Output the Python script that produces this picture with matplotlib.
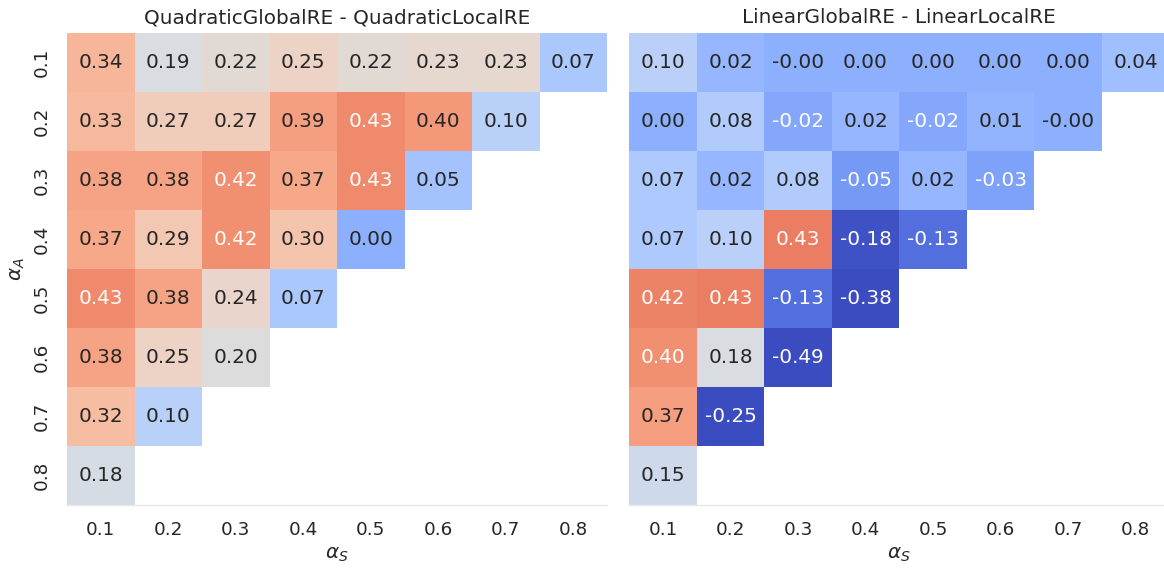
import numpy as np
import matplotlib
matplotlib.use("Agg")
import matplotlib.pyplot as plt
import seaborn as sns

alpha_s = ["0.1", "0.2", "0.3", "0.4", "0.5", "0.6", "0.7", "0.8"]
alpha_a = ["0.1", "0.2", "0.3", "0.4", "0.5", "0.6", "0.7", "0.8"]

quad_rows = [
    [0.34, 0.19, 0.22, 0.25, 0.22, 0.23, 0.23, 0.07],
    [0.33, 0.27, 0.27, 0.39, 0.43, 0.40, 0.10],
    [0.38, 0.38, 0.42, 0.37, 0.43, 0.05],
    [0.37, 0.29, 0.42, 0.30, 0.00],
    [0.43, 0.38, 0.24, 0.07],
    [0.38, 0.25, 0.20],
    [0.32, 0.10],
    [0.18],
]
lin_rows = [
    [0.10, 0.02, -0.0, 0.00, 0.00, 0.00, 0.00, 0.04],
    [0.00, 0.08, -0.02, 0.02, -0.02, 0.01, -0.0],
    [0.07, 0.02, 0.08, -0.05, 0.02, -0.03],
    [0.07, 0.10, 0.43, -0.18, -0.13],
    [0.42, 0.43, -0.13, -0.38],
    [0.40, 0.18, -0.49],
    [0.37, -0.25],
    [0.15],
]
titles = ["QuadraticGlobalRE - QuadraticLocalRE", "LinearGlobalRE - LinearLocalRE"]
color_limits = [(-0.2, 0.6), (-0.19, 0.57)]


def to_matrix(rows):
    n = len(alpha_s)
    m = np.full((len(alpha_a), n), np.nan)
    for i, r in enumerate(rows):
        m[i, :len(r)] = r
    return m


sns.set_theme(style="white", font_scale=1.2)
plt.rcParams["font.family"] = ["DejaVu Sans"]

fig = plt.figure(figsize=(11.64, 5.68), dpi=100)
W, H = 1164, 568
ax1 = fig.add_axes([67 / W, 1 - 505 / H, 540 / W, 472 / H])
ax2 = fig.add_axes([629.3 / W, 1 - 505 / H, 540 / W, 472 / H])

for ax, rows, title, lims, show_y in [(ax1, quad_rows, titles[0], color_limits[0], True),
                                      (ax2, lin_rows, titles[1], color_limits[1], False)]:
    m = to_matrix(rows)
    mask = np.isnan(m)
    sns.heatmap(m, mask=mask, annot=True, fmt=".2f", cmap="coolwarm",
                vmin=lims[0], vmax=lims[1], cbar=False, ax=ax,
                xticklabels=alpha_s, yticklabels=alpha_a if show_y else False,
                annot_kws={"fontsize": 14.4})
    ax.set_title(title, fontsize=14.4, color=".15", pad=7)
    ax.set_xlabel(r"$\alpha_S$", fontsize=14.4, color=".15")
    ax.tick_params(axis="both", length=0, pad=11.5, labelsize=13.2, labelcolor=".15")
    plt.setp(ax.get_xticklabels(), rotation=0)
    if show_y:
        ax.set_ylabel(r"$\alpha_A$", fontsize=14.4, color=".15")
        plt.setp(ax.get_yticklabels(), rotation=90, va="center")
    ax.spines["bottom"].set_visible(True)
    ax.spines["bottom"].set_color("#e8e8e8")
    ax.spines["bottom"].set_linewidth(1.0)

fig.savefig("out.png", dpi=100)
